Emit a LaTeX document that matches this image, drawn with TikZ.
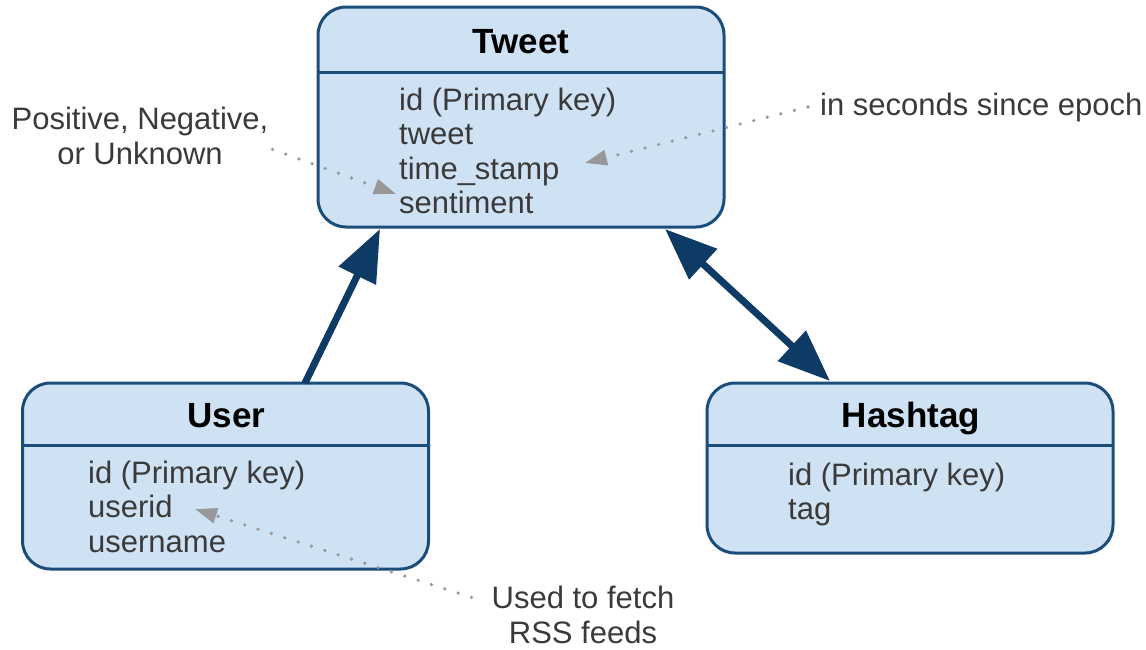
\documentclass[tikz,border=0pt]{standalone}
\usepackage{fontspec}
\setmainfont{Liberation Sans}
\usetikzlibrary{positioning, calc, arrows.meta}
\definecolor{boxfill}{HTML}{CFE2F3}
\definecolor{boxline}{HTML}{1B4D7A}
\definecolor{linkblue}{HTML}{0D3B66}
\definecolor{notegray}{HTML}{989898}
\definecolor{textgray}{HTML}{3A3A3A}
\tikzset{
    entity/.style={
        rectangle,
        draw=boxline,
        fill=boxfill,
        line width=3pt, % box border
        rounded corners=28pt,
        inner sep=0,
        outer sep=0,
        minimum width=406pt
    },
    entitytitle/.style={
        anchor=base,
        inner sep=0,
        font=\fontsize{35}{40}\selectfont\bfseries
    },
    attrlist/.style={
        anchor=north west,
        align=left,
        inner sep=0,
        text=textgray,
        font=\fontsize{31}{34.5}\selectfont
    }
}

\begin{document}
\begin{tikzpicture}[
        x=1pt, y=-1pt,
        divline/.style={draw=boxline, line width=3pt},
        link/.style={draw=linkblue, line width=7pt},
        notetext/.style={inner sep=0, text=textgray, font=\fontsize{31}{35}\selectfont},
        notearrow/.style={
            draw=notegray,
            line width=3.6pt,
            line cap=round,
            dash pattern=on 0pt off 14pt,
            -{Triangle[length=22pt, width=15pt]}
        }
    ]
    \useasboundingbox (0,0) rectangle (1146,649);

    % entities
    \node[entity, minimum height=220] (tweet) at (521,117) {};
    \draw[divline] ($(tweet.north west)+(0,65)$) -- ($(tweet.north east)+(0,65)$);
    \node[entitytitle] (tweettitle) at ($(tweet.north)+(0,46)$) {Tweet};
    \node[attrlist] (tweetattr) at (399,87.5) {id (Primary key)\\tweet\\time\_stamp\\sentiment};

    \node[entity, minimum height=186] (user) at (225.5,476) {};
    \draw[divline] ($(user.north west)+(0,62)$) -- ($(user.north east)+(0,62)$);
    \node[entitytitle] (usertitle) at ($(user.north)+(1,44)$) {User};
    \node[attrlist] (userattr) at (88,460.5) {id (Primary key)\\userid\\username};

    \node[entity, minimum height=170] (hashtag) at (910,468) {};
    \draw[divline] ($(hashtag.north west)+(0,62)$) -- ($(hashtag.north east)+(0,62)$);
    \node[entitytitle] (hashtagtitle) at ($(hashtag.north)+(1,44)$) {Hashtag};
    \node[attrlist] (hashtagattr) at (788,462.5) {id (Primary key)\\tag};

    % relations
    \draw[link, -{Triangle[length=52pt, width=40pt]}]
        ($(user.north)+(79.5,0)$) -- ($(tweet.south)+(-141,2)$);
    \draw[link, {Triangle[length=52pt, width=40pt]}-{Triangle[length=52pt, width=40pt]}]
        ($(tweet.south)+(144,2)$) -- ($(hashtag.north)+(-80,-2)$);

    % notes
    \node[notetext, align=center, anchor=base] (sentnote) at (140,164) {Positive, Negative,\\or Unknown};
    \node[notetext, anchor=base west] (epochnote) at (820,115) {in seconds since epoch};
    \node[notetext, align=center, anchor=base] (rssnote) at (583,643) {Used to fetch\\RSS feeds};

    \coordinate (senttip) at (396,194);
    \coordinate (epochtip) at (585,163);
    \coordinate (usertip) at (195,509);

    \draw[notearrow] ($(sentnote.east)+(4,14)$) -- (senttip);
    \draw[notearrow] ($(epochnote.west)+(-12,0)$) -- (epochtip);
    \draw[notearrow] ($(rssnote.north west)+(-20,12)$) -- (usertip);
\end{tikzpicture}
\end{document}
